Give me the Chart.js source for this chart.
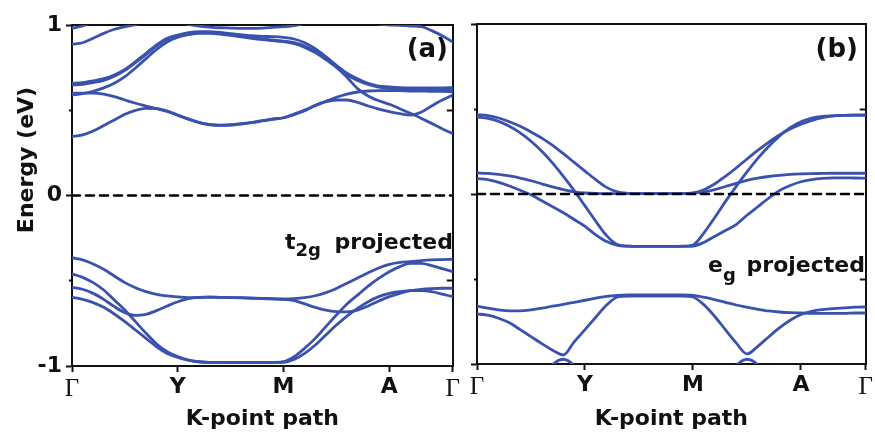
<!DOCTYPE html>
<html>
<head>
<meta charset="utf-8">
<script src="https://cdn.jsdelivr.net/npm/chart.js@4.4.1/dist/chart.umd.min.js"></script>
<style>
  html, body { margin: 0; padding: 0; background: #fff; }
  #wrap { position: relative; width: 875px; height: 435px; overflow: hidden; }
  canvas { position: absolute; top: 0; }
  #panelA { left: 0; }
  #panelB { left: 460px; }
</style>
</head>
<body>
<div id="wrap">
  <canvas id="panelA" width="462" height="435"></canvas>
  <canvas id="panelB" width="415" height="435"></canvas>
</div>
<script>
// k-path sampling (Γ=0, Y=1, M=2, A=3, Γ=3.6)
const kPath = [0, 0.1, 0.2, 0.3, 0.4, 0.5, 0.6, 0.7, 0.8, 0.9, 1, 1.1, 1.2, 1.3, 1.4, 1.5, 1.6, 1.7, 1.8, 1.9,
               2, 2.1, 2.2, 2.3, 2.4, 2.5, 2.6, 2.7, 2.8, 2.9, 3, 3.1, 3.2, 3.3, 3.4, 3.5, 3.6];
const tickPos = [0, 1, 2, 3, 3.6];
const tickNames = ['Γ', 'Y', 'M', 'A', 'Γ'];
const energyMajor = [-1, 0, 1];
const energyLabels = ['-1', '0', '1'];
const energyMinor = [-0.5, 0.5];

// (a) t2g-projected bands, energies in eV
const t2gC1 = [0.658,0.662,0.672,0.685,0.707,0.740,0.785,0.834,0.883,0.922,0.941, 0.955,0.961,0.961,0.957,0.949,0.943,0.937,0.933,0.932,0.928, 0.918,0.896,0.861,0.814,0.763,0.717,0.685,0.658,0.642,0.637, 0.633,0.631,0.631,0.631,0.631,0.633];
const t2gC2 = [0.648,0.652,0.662,0.675,0.699,0.734,0.779,0.828,0.877,0.916,0.937, 0.949,0.955,0.955,0.951,0.943,0.933,0.926,0.918,0.912,0.906, 0.896,0.877,0.846,0.803,0.752,0.693,0.627,0.584,0.556,0.535, 0.509,0.482,0.453,0.423,0.392,0.363];
const t2gC3 = [0.589,0.597,0.611,0.631,0.658,0.697,0.748,0.803,0.857,0.900,0.928, 0.943,0.951,0.951,0.947,0.939,0.930,0.922,0.914,0.908,0.902, 0.890,0.869,0.838,0.797,0.752,0.708,0.674,0.651,0.636,0.628, 0.625,0.623,0.621,0.621,0.621,0.621];
const t2gC4 = [0.599,0.601,0.601,0.595,0.580,0.560,0.541,0.525,0.509,0.493,0.470, 0.447,0.427,0.415,0.411,0.413,0.419,0.427,0.437,0.447,0.456, 0.478,0.501,0.527,0.552,0.576,0.595,0.607,0.613,0.615,0.615, 0.615,0.613,0.613,0.611,0.611,0.609];
const t2gC5 = [0.345,0.355,0.378,0.410,0.443,0.476,0.499,0.511,0.509,0.495,0.472, 0.449,0.429,0.417,0.413,0.415,0.421,0.429,0.439,0.449,0.456, 0.474,0.497,0.529,0.550,0.560,0.560,0.546,0.525,0.507,0.492, 0.480,0.472,0.488,0.525,0.560,0.589];
const t2gC6 = [0.887,0.896,0.922,0.951,0.975,0.990,1.002,1.02,1.04,1.06,1.08, 1.09,1.10,1.10,1.10,1.10,1.10,1.10,1.10,1.10,1.10, 1.10,1.09,1.08,1.07,1.06,1.05,1.035,1.02,1.006,1.0, 0.998,0.994,0.990,0.967,0.937,0.900];
const t2gC7 = [0.980,0.994,1.02,1.04,1.05,1.06,1.06,1.06,1.05,1.04,1.02, 1.003,0.994,0.988,0.984,0.982,0.980,0.980,0.982,0.986,0.990, 0.996,1.01,1.03,1.05,1.06,1.07,1.08,1.08,1.08,1.08, 1.08,1.08,1.08,1.08,1.08,1.08];
const t2gV1 = [-0.365,-0.378,-0.402,-0.433,-0.472,-0.511,-0.541,-0.564,-0.580,-0.589,-0.595, -0.599,-0.599,-0.597,-0.597,-0.599,-0.599,-0.601,-0.603,-0.605,-0.607, -0.605,-0.599,-0.588,-0.570,-0.545,-0.515,-0.484,-0.453,-0.425,-0.404, -0.392,-0.388,-0.382,-0.378,-0.376,-0.374];
const t2gV2 = [-0.460,-0.480,-0.511,-0.554,-0.613,-0.672,-0.740,-0.808,-0.871,-0.916,-0.945, -0.965,-0.975,-0.979,-0.979,-0.980,-0.980,-0.980,-0.980,-0.979,-0.975, -0.945,-0.896,-0.838,-0.769,-0.701,-0.636,-0.584,-0.531,-0.486,-0.447, -0.417,-0.398,-0.398,-0.411,-0.429,-0.447];
const t2gV3 = [-0.539,-0.550,-0.574,-0.609,-0.652,-0.687,-0.703,-0.697,-0.675,-0.648,-0.623, -0.605,-0.597,-0.595,-0.597,-0.599,-0.601,-0.603,-0.605,-0.607,-0.609, -0.617,-0.636,-0.656,-0.672,-0.681,-0.683,-0.672,-0.648,-0.619,-0.593, -0.574,-0.558,-0.550,-0.546,-0.544,-0.544];
const t2gV4 = [-0.597,-0.609,-0.628,-0.656,-0.695,-0.740,-0.789,-0.838,-0.887,-0.926,-0.949, -0.965,-0.975,-0.979,-0.979,-0.979,-0.979,-0.979,-0.979,-0.979,-0.979, -0.961,-0.926,-0.877,-0.818,-0.760,-0.707,-0.662,-0.623,-0.593,-0.574, -0.564,-0.558,-0.558,-0.564,-0.578,-0.593];

// (b) eg-projected bands, energies in eV
const egC1 = [0.467,0.461,0.447,0.425,0.398,0.365,0.329,0.286,0.237,0.186,0.135, 0.084,0.039,0.012,0.004,0.002,0.002,0.002,0.002,0.002,0.006, 0.025,0.059,0.104,0.153,0.206,0.257,0.304,0.347,0.382,0.410, 0.433,0.449,0.459,0.463,0.465,0.465];
const egC2 = [0.453,0.445,0.427,0.398,0.359,0.310,0.251,0.182,0.104,0.020,-0.070, -0.160,-0.245,-0.298,-0.307,-0.308,-0.308,-0.308,-0.308,-0.307,-0.300, -0.230,-0.140,-0.045,0.045,0.130,0.210,0.280,0.340,0.390,0.425, 0.447,0.457,0.460,0.462,0.462,0.462];
const egC3 = [0.124,0.121,0.115,0.106,0.094,0.078,0.060,0.042,0.026,0.013,0.006, 0.003,0.002,0.002,0.002,0.002,0.002,0.002,0.002,0.002,0.004, 0.012,0.026,0.044,0.063,0.080,0.093,0.103,0.110,0.115,0.118, 0.120,0.121,0.122,0.122,0.122,0.122];
const egC4 = [0.090,0.084,0.068,0.047,0.022,-0.005,-0.040,-0.075,-0.110,-0.150,-0.190, -0.240,-0.280,-0.302,-0.307,-0.308,-0.308,-0.308,-0.308,-0.308,-0.306, -0.285,-0.250,-0.215,-0.180,-0.125,-0.075,-0.025,0.020,0.050,0.072, 0.085,0.092,0.095,0.095,0.094,0.093];
const egV1 = [-0.660,-0.672,-0.682,-0.688,-0.688,-0.682,-0.672,-0.660,-0.649,-0.637,-0.625, -0.613,-0.602,-0.596,-0.594,-0.594,-0.594,-0.594,-0.594,-0.594,-0.596, -0.607,-0.621,-0.637,-0.653,-0.666,-0.678,-0.688,-0.694,-0.698,-0.700, -0.702,-0.702,-0.702,-0.702,-0.700,-0.700];
const egV2 = [-0.705,-0.713,-0.731,-0.758,-0.798,-0.839,-0.880,-0.919,-0.947,-0.870,-0.798, -0.725,-0.653,-0.606,-0.600,-0.600,-0.600,-0.600,-0.600,-0.600,-0.606, -0.651,-0.719,-0.798,-0.876,-0.941,-0.896,-0.841,-0.788,-0.743,-0.709, -0.690,-0.680,-0.674,-0.670,-0.666,-0.664];
const egV3 = [-1.1,-1.1,-1.1,-1.1,-1.1,-1.1,-1.1,-1.005,-0.972,-1.01,-1.1, -1.1,-1.1,-1.1,-1.1,-1.1,-1.1,-1.1,-1.1,-1.1,-1.1, -1.1,-1.1,-1.1,-1.01,-0.972,-1.005,-1.1,-1.1,-1.1,-1.1, -1.1,-1.1,-1.1,-1.1,-1.1,-1.1];

const bandColor = '#3a52ad';
const axisColor = '#111';
const boldFont = 'DejaVu Sans';

function bandDataset(values) {
  return {
    data: kPath.map((k, i) => ({ x: k, y: values[i] })),
    borderColor: bandColor, borderWidth: 2.8, pointRadius: 0,
    fill: false, cubicInterpolationMode: 'monotone', clip: 0
  };
}
function fermiDataset() {
  return {
    data: [{ x: 0, y: 0 }, { x: 3.6, y: 0 }],
    borderColor: '#000', borderWidth: 2.6, borderDash: [8, 6],
    pointRadius: 0, fill: false, clip: 0
  };
}

function scalesFor(cfg) {
  const tickGrid = len => ({ display: true, drawOnChartArea: false, drawTicks: true, tickLength: len, tickColor: axisColor, tickWidth: 2 });
  const border = { display: true, color: axisColor, width: 2 };
  const noBorder = { display: false };
  return {
    x: {
      type: 'linear', position: 'bottom', min: 0, max: 3.6,
      afterBuildTicks: s => { s.ticks = tickPos.map(v => ({ value: v })); },
      afterFit: s => { s.height = cfg.xHeight; },
      ticks: {
        autoSkip: false, maxRotation: 0, minRotation: 0, padding: 2, color: axisColor,
        callback: (v, i) => tickNames[i],
        font: ctx => tickNames[ctx.index] === 'Γ'
          ? { family: 'Liberation Serif', size: 25, weight: 'normal' }
          : { family: boldFont, size: 22, weight: 'bold' }
      },
      grid: tickGrid(6), border: border,
      title: { display: true, text: 'K-point path', color: axisColor,
               font: { family: boldFont, size: 22, weight: 'bold' }, padding: { top: 0, bottom: 3 } }
    },
    y: {
      type: 'linear', position: 'left', min: -1, max: 1, weight: 1,
      afterBuildTicks: s => { s.ticks = energyMajor.map(v => ({ value: v })); },
      afterFit: s => { s.width = cfg.yWidth; },
      ticks: {
        padding: 4, color: axisColor,
        callback: (v, i) => cfg.yLabels ? energyLabels[i] : '',
        font: { family: boldFont, size: 22, weight: 'bold' }
      },
      grid: tickGrid(6), border: border
    },
    yMinor: {
      type: 'linear', position: 'left', min: -1, max: 1, weight: 0,
      afterBuildTicks: s => { s.ticks = energyMinor.map(v => ({ value: v })); },
      afterFit: s => { s.width = 0; },
      ticks: { callback: () => '' },
      grid: tickGrid(3), border: noBorder
    },
    xTop: {
      type: 'linear', position: 'top', min: 0, max: 3.6,
      ticks: { display: false }, grid: { display: false, drawTicks: false }, border: border,
      afterFit: s => { s.height = 0; }
    },
    yRight: {
      type: 'linear', position: 'right', min: -1, max: 1,
      afterBuildTicks: s => { s.ticks = energyMinor.map(v => ({ value: v })); },
      ticks: { callback: () => '' }, grid: tickGrid(-6), border: border,
      afterFit: s => { s.width = 0; }
    }
  };
}

// text labels drawn on each panel
function labelPlugin(draw) {
  return { id: 'panelText', afterDraw(chart) { const c = chart.ctx; c.save(); c.fillStyle = axisColor; draw(c); c.restore(); } };
}
function withSubscript(c, base, sub, rest, x, y, subDrop, restRight) {
  c.font = 'bold 22px ' + boldFont;
  c.textAlign = 'left';
  c.textBaseline = 'alphabetic';
  c.fillText(base, x, y);
  const bx = x + c.measureText(base).width;
  c.font = 'bold 18px ' + boldFont;
  c.fillText(sub, bx, y + subDrop);
  c.font = 'bold 22px ' + boldFont;
  c.textAlign = 'right';
  c.fillText(rest, restRight, y);
}

const baseOptions = {
  responsive: false, animation: false, devicePixelRatio: 1,
  plugins: { legend: { display: false }, tooltip: { enabled: false } },
  elements: { line: { borderCapStyle: 'round', borderJoinStyle: 'round' } }
};

new Chart(document.getElementById('panelA'), {
  type: 'line',
  data: { datasets: [fermiDataset(),
    bandDataset(t2gC1), bandDataset(t2gC2), bandDataset(t2gC3), bandDataset(t2gC4), bandDataset(t2gC5),
    bandDataset(t2gC6), bandDataset(t2gC7),
    bandDataset(t2gV1), bandDataset(t2gV2), bandDataset(t2gV3), bandDataset(t2gV4)] },
  options: Object.assign({}, baseOptions, {
    layout: { padding: { left: 0, right: 7, top: 25, bottom: 0 } },
    scales: scalesFor({ xHeight: 69, yWidth: 72, yLabels: true })
  }),
  plugins: [labelPlugin(c => {
    c.font = 'bold 26px ' + boldFont;
    c.textAlign = 'right';
    c.fillText('(a)', 448, 57);
    withSubscript(c, 't', '2g', 'projected', 285, 249, 7, 453);
    c.save();
    c.translate(33, 160);
    c.rotate(-Math.PI / 2);
    c.font = 'bold 22px ' + boldFont;
    c.textAlign = 'center';
    c.fillText('Energy (eV)', 0, 0);
    c.restore();
  })]
});

new Chart(document.getElementById('panelB'), {
  type: 'line',
  data: { datasets: [fermiDataset(),
    bandDataset(egC1), bandDataset(egC2), bandDataset(egC3), bandDataset(egC4),
    bandDataset(egV1), bandDataset(egV2), bandDataset(egV3)] },
  options: Object.assign({}, baseOptions, {
    layout: { padding: { left: 0, right: 8, top: 24, bottom: 0 } },
    scales: scalesFor({ xHeight: 71, yWidth: 17, yLabels: false })
  }),
  plugins: [labelPlugin(c => {
    c.font = 'bold 26px ' + boldFont;
    c.textAlign = 'right';
    c.fillText('(b)', 398, 57);
    withSubscript(c, 'e', 'g', 'projected', 248, 272, 9, 405);
  })]
});
</script>
</body>
</html>
